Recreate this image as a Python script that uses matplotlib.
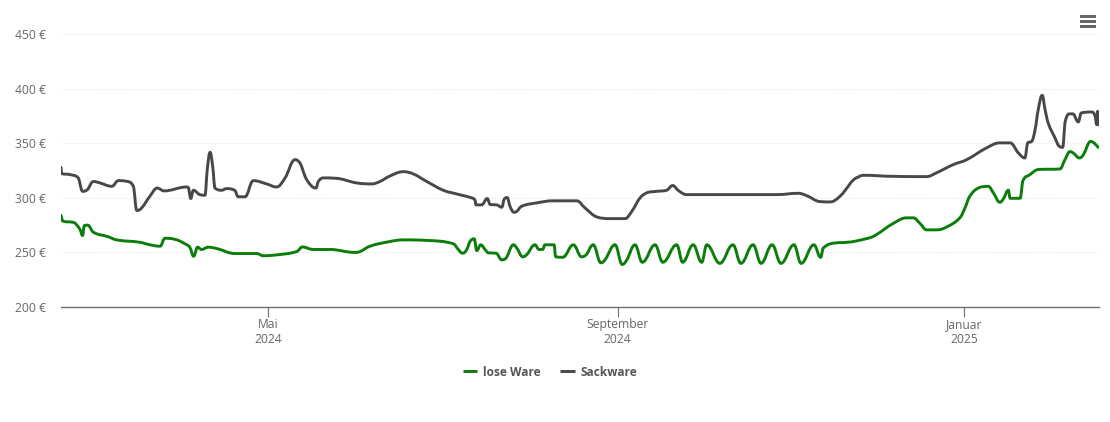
from datetime import date
import matplotlib
matplotlib.use('Agg')
import matplotlib.pyplot as plt
import matplotlib.dates as mdates
from matplotlib.lines import Line2D
from matplotlib.patches import PathPatch, Rectangle
from matplotlib.path import Path

plt.rcParams['font.family'] = ['Open Sans', 'DejaVu Sans']

start_date = date(2024, 2, 18)
days_shown = 365.5

# days since start_date, euro prices
lose_days = [0, 0.5, 4.9, 6.7, 7.6, 8.2, 9.4, 11.4, 16.5, 19.6, 27.8, 31.3, 34.9, 36.6, 40.1, 44.3, 45.4, 46.7, 48.1,
	49.5, 51.8, 54.8, 61.3, 68.9, 71.2, 76, 83, 85, 88.8, 94.7, 103.5, 105.3, 108.8, 115.8, 120.5, 128.8, 138.1,
	139.9, 141.4, 142.9, 144, 145.5, 146.4, 147.8, 149.3, 150.5, 153.2, 155.2, 156.3, 159.3, 160.5, 162.6, 164,
	166.9, 168.3, 169.6, 170.4, 173.6, 174.2, 176.7, 180.4, 183.3, 184.5, 187.4, 190.1, 191.5, 195.1, 197.6,
	199.2, 202.1, 204.7, 209.2, 211.9, 216.8, 218.9, 222.6, 225.6, 227.4, 232, 236.6, 239.4, 243.7, 246.5, 250.4,
	253.5, 258.1, 260.6, 265.1, 267.5, 268.4, 273.1, 276.7, 283.7, 286.6, 293, 297.8, 300.1, 302.5, 304.8, 308.3,
	311.9, 316.5, 318.3, 320, 323, 326.5, 328.3, 330.6, 331.8, 333.6, 334.2, 337.7, 338.6, 341.2, 344.1, 351.8,
	353.5, 355.3, 356.5, 358.6, 360, 362.6, 365.2]
lose_prices = [284, 279, 277, 271, 265.5, 274.6, 275, 268.5, 264.5, 261.5, 259.3, 257, 255.7, 263, 262, 257, 254.5, 246.5, 254.8,
	252.7, 254.8, 253.6, 249, 249, 247, 247.8, 250.8, 255, 252.7, 252.7, 250, 250.8, 255.7, 260, 261.5, 261, 258,
	252.7, 249.3, 252.7, 260, 262.5, 251.7, 257, 252.7, 249.6, 249.3, 243.2, 244, 257, 254, 246, 248,
	257, 252.7, 252.7, 257, 257, 246, 245.6, 257, 246, 247, 257, 240.5, 243, 257, 239,
	243, 257, 241, 257, 241, 257, 241, 257, 241, 257, 240, 257, 240, 257, 240, 257,
	240, 257, 240, 257, 245.5, 254, 258.8, 259.3, 262.7, 265.5, 276.5, 281.7, 281.7, 276.5, 270.7, 270.7,
	273.4, 281.7, 290.8, 301.5, 309, 310.6, 304.6, 296, 299, 307, 299.6, 299.6, 315, 321.3, 326, 326.5,
	335, 342.4, 341, 336.6, 339.6, 351.8, 346.3]

sack_days = [0, 0.2, 3.2, 6.1, 7.6, 9, 11.4, 13.7, 17.9, 20.2, 23.1, 25.5, 26.7, 28.4, 31.3, 33.9, 36.3, 44.3, 44.8, 45.7,
	46.6, 48.9, 50.7, 51.5, 52.5, 53.4, 54.2, 56.6, 58.3, 61.3, 62.4, 64.8, 67.7, 72.4, 75.9, 78.9, 82.4, 83.6,
	86.5, 89.8, 90.6, 92.4, 96.5, 104.1, 109.4, 112.3, 115.8, 120.5, 124, 128.8, 134.6, 139.3, 144.6, 145.8, 146.1,
	148.1, 150.1, 151.1, 153.4, 155.2, 156.1, 157.1, 158.1, 159.5, 160.5, 162.2, 167.5, 173.3, 181.6, 184.5, 188.6,
	193.3, 198.6, 201, 203.9, 206.2, 209.8, 213.3, 215.4, 217.4, 220.3, 235.6, 252, 259.6, 262.6, 267.3, 270.8,
	274.3, 280.7, 283, 291.9, 304.8, 308.3, 314.2, 318.9, 325.9, 330.6, 334.2, 337.1, 339.4, 340.4, 341.8, 343,
	344.1, 345.5, 346.5, 347.6, 350, 351.5, 352.7, 353.5, 355.3, 356.3, 358.2, 359.2, 362.9, 364.1, 364.7, 365, 365.2]
sack_prices = [328, 322.3, 321.3, 318.3, 306, 307, 315, 313.7, 310.6, 315.8, 315.2, 310.6, 288.4, 290.8, 301.5, 309, 306.4, 310, 309.5, 299.4,
	307, 303, 302.4, 326, 341.8, 329, 309, 307, 308.5, 306.7, 301, 301, 315.8, 312.8, 310, 318.3, 335, 333.5,
	316.8, 309, 315, 318.3, 318, 313.7, 312.8, 315, 320, 324, 322, 315, 307, 303.6, 300, 297.8, 293.6,
	293.6, 299.4, 293.9, 293.6, 291.4, 299, 300.3, 292.3, 286.8, 287.7, 292.3, 295.4, 297.3, 297.3, 290.8, 282.6,
	281, 281, 287.7, 300, 304.6, 306, 307, 311.3, 306.7, 303, 303, 303, 304.2, 302, 296.6, 296.3,
	301.5, 319, 320.7, 319.8, 319.5, 323, 330.5, 335, 345.8, 350.4, 350.4, 341.2, 336.6, 350.4, 351.8, 362.5,
	380.9, 394, 381, 368.7, 355, 347.3, 346.3, 368.7, 377, 377, 369.6, 377.8, 378.7, 375.3, 367, 379.3, 367]

y_ticks = [200, 250, 300, 350, 400, 450]
x_tick_dates = [date(2024, 5, 1), date(2024, 9, 1), date(2025, 1, 1)]
x_tick_labels = ['Mai\n2024', 'September\n2024', 'Januar\n2025']
series_names = ['lose Ware', 'Sackware']


def spline_path(xs, ys):
	# same control points as a highcharts spline
	verts = [(xs[0], ys[0])]
	codes = [Path.MOVETO]
	right_x, right_y = xs[0], ys[0]
	for i in range(1, len(xs)):
		x, y = xs[i], ys[i]
		left_x, left_y = x, y
		next_x, next_y = x, y
		if i < len(xs) - 1:
			left_x = (1.5 * x + xs[i - 1]) / 2.5
			left_y = (1.5 * y + ys[i - 1]) / 2.5
			next_x = (1.5 * x + xs[i + 1]) / 2.5
			next_y = (1.5 * y + ys[i + 1]) / 2.5
			fix = (next_y - left_y) * (next_x - x) / (next_x - left_x) + y - next_y
			left_y += fix
			next_y += fix
			if left_y > max(ys[i - 1], y):
				left_y = max(ys[i - 1], y)
				next_y = 2 * y - left_y
			elif left_y < min(ys[i - 1], y):
				left_y = min(ys[i - 1], y)
				next_y = 2 * y - left_y
			if next_y > max(ys[i + 1], y):
				next_y = max(ys[i + 1], y)
				left_y = 2 * y - next_y
			elif next_y < min(ys[i + 1], y):
				next_y = min(ys[i + 1], y)
				left_y = 2 * y - next_y
		verts += [(right_x, right_y), (left_x, left_y), (x, y)]
		codes += [Path.CURVE4, Path.CURVE4, Path.CURVE4]
		right_x, right_y = next_x, next_y
	return Path(verts, codes)


def to_num(days):
	return [mdates.date2num(start_date) + d for d in days]


W, H = 1110, 422
fig = plt.figure(figsize=(W / 100, H / 100), dpi=100)
ax = fig.add_axes([61 / W, 1 - 307 / H, 1038 / W, 272.8 / H])

green = '#0a7d0a'
dark = '#484848'
for days, prices, col in [(lose_days, lose_prices, green), (sack_days, sack_prices, dark)]:
	ax.add_patch(PathPatch(spline_path(to_num(days), prices), fill=False, edgecolor=col, linewidth=2.1,
		capstyle='round', joinstyle='round', zorder=3))

ax.set_xlim(mdates.date2num(start_date), mdates.date2num(start_date) + days_shown)
ax.set_ylim(200, 450)

for s in ['top', 'left', 'right']:
	ax.spines[s].set_visible(False)
ax.spines['bottom'].set_color('#707070')
ax.spines['bottom'].set_linewidth(1)

ax.set_yticks(y_ticks)
ax.set_yticklabels([str(v) + ' €' for v in y_ticks])
ax.tick_params(axis='y', length=0, pad=10.5, labelsize=8.7, labelcolor='#666666')
ax.set_xticks([mdates.date2num(d) for d in x_tick_dates])
ax.set_xticklabels(x_tick_labels, linespacing=1.27)
ax.tick_params(axis='x', length=7.2, width=0.8, color='#707070', pad=0.5, labelsize=8.7, labelcolor='#666666')
ax.grid(axis='y', color='#e6e6e6', linewidth=0.8, linestyle=(0, (1, 1.5)))
ax.set_axisbelow(True)

handles = [Line2D([0], [0], color=green, lw=2.1, solid_capstyle='butt'),
	Line2D([0], [0], color=dark, lw=2.1, solid_capstyle='butt')]
fig.legend(handles, series_names, ncol=2, frameon=False, loc='center', bbox_to_anchor=(550 / W, 1 - 372 / H),
	prop={'size': 8.6, 'weight': 'bold'}, labelcolor='#555555', handlelength=1.2, handletextpad=0.5,
	columnspacing=1.65)

# hamburger menu, top right
for y in [16.3, 21.3, 26.3]:
	fig.add_artist(Rectangle((1080 / W, 1 - (y + 1.3) / H), 16 / W, 2.6 / H, transform=fig.transFigure,
		facecolor='#666666', edgecolor='none'))

fig.savefig('out.png', dpi=100)
